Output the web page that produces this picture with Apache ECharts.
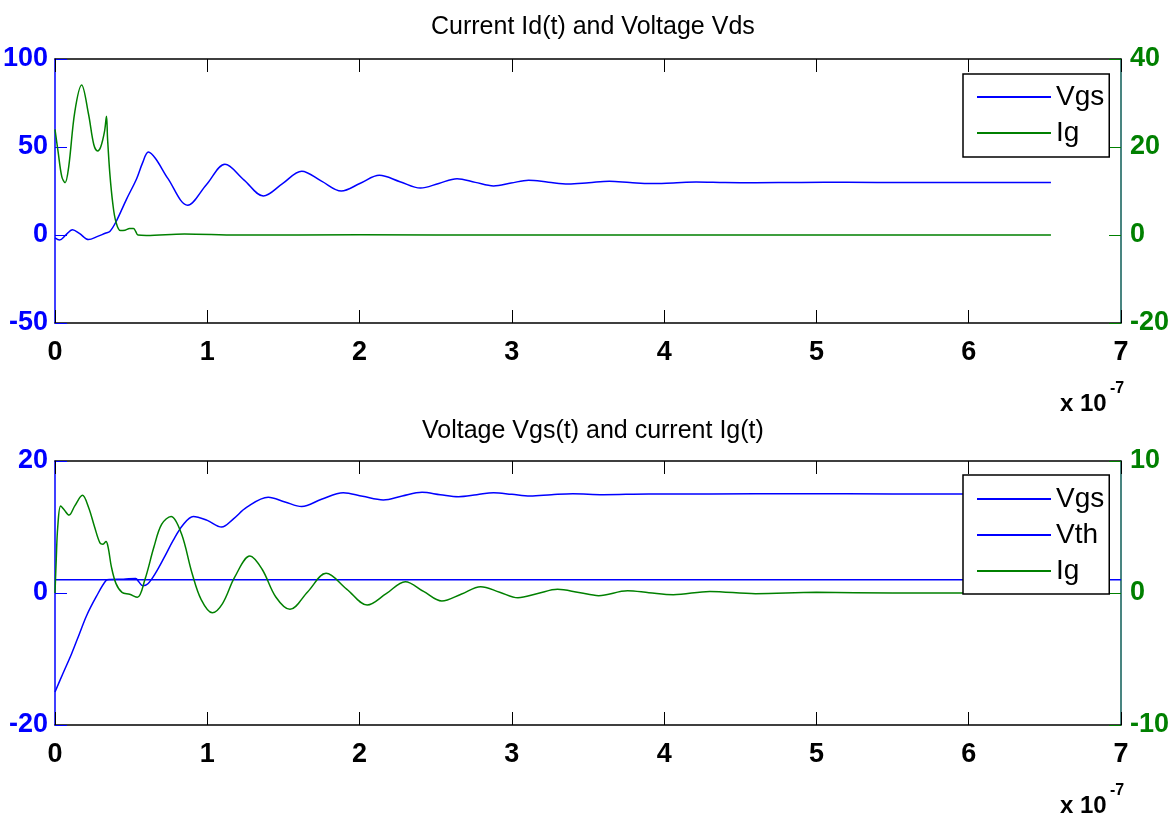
<!DOCTYPE html>
<html>
<head>
<meta charset="utf-8">
<script src="https://cdn.jsdelivr.net/npm/echarts@6/dist/echarts.min.js"></script>
<style>
  html, body { margin: 0; padding: 0; background: #fff; }
  #chart { width: 1171px; height: 816px; }
</style>
</head>
<body>
<div id="chart"></div>
<script>
// time axis in units of 1e-7 s
var xTicksMin = 0, xTicksMax = 7;

// top plot: "Current Id(t) and Voltage Vds"
var topVgs = [
  [0, -1.6], [0.03, -2.8], [0.07, -0.1], [0.115, 3], [0.16, 0.9], [0.22, -2.6],
  [0.28, -0.8], [0.33, 1], [0.36, 2], [0.40, 7.4], [0.47, 20.4], [0.536, 32],
  [0.575, 41], [0.613, 47.2], [0.66, 43.5], [0.742, 32], [0.871, 16.9],
  [0.994, 28.6], [1.116, 40.2], [1.242, 31.2], [1.368, 22.2], [1.494, 29.2],
  [1.62, 36.2], [1.75, 30.6], [1.88, 25], [2.005, 29.4], [2.13, 33.9],
  [2.265, 30.3], [2.40, 26.7], [2.52, 29.3], [2.64, 32], [2.76, 29.9],
  [2.88, 27.9], [2.995, 29.5], [3.11, 31.1], [3.24, 30], [3.37, 29],
  [3.505, 29.7], [3.64, 30.5], [3.775, 29.8], [3.91, 29.2], [4.06, 29.6],
  [4.21, 30.1], [4.4, 29.8], [4.6, 29.7], [4.9, 29.9], [5.2, 30], [5.6, 29.8],
  [6.0, 29.9], [6.54, 29.9]
];
var topIg = [
  [0, 24], [0.02, 19], [0.045, 13.2], [0.066, 11.9], [0.09, 15.5], [0.13, 28],
  [0.175, 34.1], [0.22, 27.5], [0.255, 20.5], [0.28, 19.1], [0.30, 20],
  [0.325, 23.5], [0.338, 27], [0.345, 22], [0.36, 14], [0.38, 7], [0.40, 3],
  [0.43, 1], [0.46, 1.1], [0.49, 1.5], [0.515, 1.5], [0.53, 0.8], [0.545, 0],
  [0.6, -0.1], [0.85, 0.25], [1.2, 0], [2, 0.05], [3, 0], [4, 0], [5, 0], [6.54, 0]
];

// bottom plot: "Voltage Vgs(t) and current Ig(t)"
var botVgs = [
  [0, -15], [0.05, -12.3], [0.109, -9.2], [0.16, -6.2], [0.208, -3.4],
  [0.27, -0.6], [0.335, 1.9], [0.36, 2.05], [0.45, 2.1], [0.53, 2.2],
  [0.55, 1.7], [0.576, 1.1], [0.61, 1.4], [0.66, 3], [0.72, 5.5], [0.777, 8],
  [0.84, 10.3], [0.908, 11.6], [1.0, 11], [1.094, 10], [1.17, 11.2],
  [1.26, 13], [1.40, 14.5], [1.51, 13.8], [1.62, 13.1], [1.75, 14.2],
  [1.893, 15.2], [2.02, 14.65], [2.156, 14.1], [2.28, 14.7], [2.41, 15.25],
  [2.53, 14.9], [2.65, 14.6], [2.77, 14.9], [2.88, 15.2], [3.0, 14.95],
  [3.12, 14.7], [3.26, 14.9], [3.40, 15.05], [3.6, 14.9], [3.9, 15],
  [4.3, 15], [4.9, 15.05], [5.5, 15], [6.54, 15]
];
var botVth = [[0, 2], [7, 2]];
var botIg = [
  [0, 0], [0.008, 2.5], [0.018, 5], [0.037, 6.6], [0.06, 6.3], [0.092, 5.9],
  [0.13, 6.6], [0.18, 7.4], [0.22, 6.5], [0.26, 5], [0.295, 3.8], [0.315, 3.7],
  [0.335, 3.9], [0.35, 3.4], [0.37, 2], [0.40, 0.73], [0.44, 0.05],
  [0.49, -0.1], [0.541, -0.33], [0.59, 1], [0.65, 3.5], [0.70, 5.2],
  [0.762, 5.8], [0.83, 4.5], [0.90, 1.5], [0.96, -0.5], [1.033, -1.5],
  [1.10, -0.8], [1.18, 1.2], [1.28, 2.8], [1.36, 1.8], [1.45, -0.3],
  [1.543, -1.24], [1.66, 0.1], [1.78, 1.49], [1.915, 0.3], [2.05, -0.91],
  [2.175, -0.05], [2.30, 0.86], [2.42, 0.12], [2.54, -0.61], [2.67, -0.07],
  [2.795, 0.48], [2.92, 0.06], [3.04, -0.36], [3.17, -0.04], [3.30, 0.28],
  [3.44, 0.04], [3.57, -0.2], [3.76, 0.17], [3.9, 0.02], [4.06, -0.13],
  [4.3, 0.12], [4.6, -0.05], [5.0, 0.05], [5.5, 0], [6.54, 0]
];

var topLeftRange = [-50, 100, 50];
var topRightRange = [-20, 40, 20];
var botLeftRange = [-20, 20, 20];
var botRightRange = [-10, 10, 10];

var BLUE = '#0000ff', GREEN = '#008000', RIGHT_AXIS = '#0d5c57';
var SANS = "'Liberation Sans', Arial, sans-serif";

function xAxisFor(grid, pos) {
  return {
    type: 'value', gridIndex: grid, position: pos,
    min: xTicksMin, max: xTicksMax, interval: 1,
    axisLine: { show: true, onZero: false, lineStyle: { color: '#000', width: 1.5 } },
    axisTick: { show: true, inside: true, length: 13, lineStyle: { color: '#000', width: 1 } },
    axisLabel: {
      show: pos === 'bottom', margin: 16, color: '#000',
      fontSize: 27, fontWeight: 'bold', fontFamily: SANS
    },
    splitLine: { show: false }
  };
}

function yAxisFor(grid, pos, range, color, lineColor) {
  return {
    type: 'value', gridIndex: grid, position: pos,
    min: range[0], max: range[1], interval: range[2],
    axisLine: { show: true, onZero: false, lineStyle: { color: lineColor, width: 1.5 } },
    axisTick: { show: true, inside: true, length: 12, lineStyle: { color: color, width: 1 } },
    axisLabel: {
      margin: pos === 'left' ? 7 : 9, color: color,
      fontSize: 27, fontWeight: 'bold', fontFamily: SANS
    },
    splitLine: { show: false }
  };
}

function lineSeries(name, data, xi, yi, color) {
  return {
    name: name, type: 'line', data: data, xAxisIndex: xi, yAxisIndex: yi,
    showSymbol: false, smooth: 0.35, animation: false,
    lineStyle: { color: color, width: 1.5 }, itemStyle: { color: color }
  };
}

function legendAt(top, names, padding) {
  return {
    orient: 'vertical', left: 963, top: top, data: names, selectedMode: false,
    icon: 'rect', itemWidth: 74, itemHeight: 2, itemGap: 6,
    padding: padding, borderColor: '#000', borderWidth: 1.5, backgroundColor: '#fff',
    textStyle: { color: '#000', fontSize: 28, fontFamily: SANS, lineHeight: 30 }
  };
}

var myChart = echarts.init(document.getElementById('chart'), null, { renderer: 'canvas' });

var option = {
  backgroundColor: '#fff',
  animation: false,
  title: [
    { text: 'Current Id(t) and Voltage Vds', left: 431, top: 15, padding: 0,
      textStyle: { color: '#000', fontSize: 25, fontWeight: 'normal', fontFamily: SANS } },
    { text: 'Voltage Vgs(t) and current Ig(t)', left: 422, top: 419, padding: 0,
      textStyle: { color: '#000', fontSize: 25, fontWeight: 'normal', fontFamily: SANS } }
  ],
  grid: [
    { left: 55, top: 59, width: 1066, height: 264, outerBoundsMode: 'none' },
    { left: 55, top: 461, width: 1066, height: 264, outerBoundsMode: 'none' }
  ],
  xAxis: [
    xAxisFor(0, 'bottom'), xAxisFor(0, 'top'),
    xAxisFor(1, 'bottom'), xAxisFor(1, 'top')
  ],
  yAxis: [
    yAxisFor(0, 'left', topLeftRange, BLUE, BLUE),
    yAxisFor(0, 'right', topRightRange, GREEN, RIGHT_AXIS),
    yAxisFor(1, 'left', botLeftRange, BLUE, BLUE),
    yAxisFor(1, 'right', botRightRange, GREEN, RIGHT_AXIS)
  ],
  legend: [
    legendAt(74, ['Vgs', 'Ig'], [8, 5, 9, 14]),
    legendAt(475, ['Vgs', 'Vth', 'Ig'], [9, 5, 8, 14])
  ],
  series: [
    lineSeries('Vgs', topVgs, 0, 0, BLUE),
    lineSeries('Ig', topIg, 0, 1, GREEN),
    lineSeries('Vgs', botVgs, 2, 2, BLUE),
    lineSeries('Vth', botVth, 2, 2, BLUE),
    lineSeries('Ig', botIg, 2, 3, GREEN)
  ],
  graphic: [
    { type: 'text', left: 1060, top: 392, style: { text: 'x 10', fill: '#000', font: 'bold 24px ' + SANS } },
    { type: 'text', left: 1110, top: 381, style: { text: '-7', fill: '#000', font: 'bold 16px ' + SANS } },
    { type: 'text', left: 1060, top: 794, style: { text: 'x 10', fill: '#000', font: 'bold 24px ' + SANS } },
    { type: 'text', left: 1110, top: 783, style: { text: '-7', fill: '#000', font: 'bold 16px ' + SANS } }
  ]
};

myChart.setOption(option);

window.onresize = function () {
  myChart.resize();
};
</script>
</body>
</html>
